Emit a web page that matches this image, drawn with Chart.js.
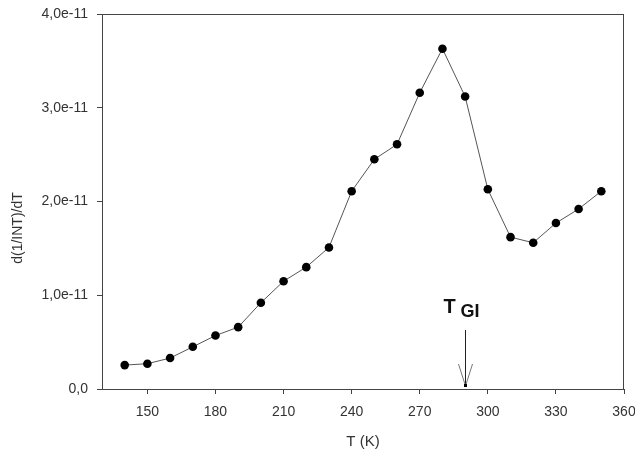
<!DOCTYPE html>
<html>
<head>
<meta charset="utf-8">
<script src="https://cdn.jsdelivr.net/npm/chart.js@4"></script>
<style>
  html, body { margin: 0; padding: 0; background: #fff; }
  #wrap { width: 635px; height: 457px; }
</style>
</head>
<body>
<div id="wrap"><canvas id="chart" width="635" height="457"></canvas></div>
<script>
// data
const temps = [140, 150, 160, 170, 180, 190, 200, 210, 220, 230, 240, 250, 260, 270, 280, 290, 300, 310, 320, 330, 340, 350];
const dInt = [2.55e-12, 2.7e-12, 3.3e-12, 4.5e-12, 5.7e-12, 6.6e-12, 9.2e-12, 1.15e-11, 1.3e-11, 1.51e-11, 2.11e-11,
    2.45e-11, 2.61e-11, 3.16e-11, 3.63e-11, 3.12e-11, 2.13e-11, 1.62e-11, 1.56e-11, 1.77e-11, 1.92e-11, 2.11e-11];
const xTicks = [150, 180, 210, 240, 270, 300, 330, 360];
const yTicks = [0, 1e-11, 2e-11, 3e-11, 4e-11];
const yTickLabels = ['0,0', '1,0e-11', '2,0e-11', '3,0e-11', '4,0e-11'];

// annotation: T_GI arrow
const tgiValue = 290;
const arrowTop = 0.63e-11;

const textColor = '#333';
const axisColor = '#444';
const fontFamily = '"Liberation Sans", Arial, sans-serif';

// frame + T_GI marker + y title
const extrasPlugin = {
    id: 'extras',
    afterDraw(chart) {
        const {ctx, chartArea: a, scales: {x, y}} = chart;
        ctx.save();
        ctx.strokeStyle = axisColor;
        ctx.lineWidth = 1;
        ctx.strokeRect(a.left + 0.5, a.top + 0.5, a.right - a.left - 1, a.bottom - a.top);

        // arrow
        const ax = Math.round(x.getPixelForValue(tgiValue)) + 0.5;
        const y0 = y.getPixelForValue(0) - 3;
        const y1 = y.getPixelForValue(arrowTop);
        ctx.strokeStyle = '#222';
        ctx.beginPath();
        ctx.moveTo(ax, y1);
        ctx.lineTo(ax, y0);
        ctx.stroke();
        ctx.strokeStyle = '#777';
        ctx.beginPath();
        ctx.moveTo(ax - 7, y0 - 22);
        ctx.lineTo(ax, y0);
        ctx.lineTo(ax + 7, y0 - 22);
        ctx.stroke();
        ctx.fillStyle = '#000';
        ctx.fillRect(ax - 1.5, y0 - 2, 3, 3);

        // label
        ctx.fillStyle = '#111';
        ctx.textBaseline = 'alphabetic';
        ctx.textAlign = 'left';
        ctx.font = 'bold 20px ' + fontFamily;
        ctx.fillText('T', ax - 22, y1 - 17);
        ctx.font = 'bold 18px ' + fontFamily;
        ctx.fillText('GI', ax - 5, y1 - 13);

        // y axis title
        ctx.fillStyle = textColor;
        ctx.font = '14px ' + fontFamily;
        ctx.textAlign = 'center';
        ctx.textBaseline = 'middle';
        ctx.translate(18, 228);
        ctx.rotate(-Math.PI / 2);
        ctx.fillText('d(1/INT)/dT', 0, 0);
        ctx.restore();
    }
};

const ctx = document.getElementById('chart').getContext('2d');
new Chart(ctx, {
    type: 'line',
    data: {
        datasets: [{
            data: temps.map((t, i) => ({x: t, y: dInt[i]})),
            borderColor: '#555',
            borderWidth: 1,
            pointBackgroundColor: '#000',
            pointBorderColor: '#000',
            pointRadius: 4.3,
            pointBorderWidth: 0,
            tension: 0
        }]
    },
    options: {
        responsive: false,
        animation: false,
        devicePixelRatio: 1,
        layout: {padding: {left: 0, top: 14, right: 11, bottom: 0}},
        plugins: {legend: {display: false}, tooltip: {enabled: false}},
        scales: {
            x: {
                type: 'linear',
                min: 130,
                max: 360,
                afterBuildTicks: s => { s.ticks = xTicks.map(v => ({value: v})); },
                afterFit: s => { s.height = 68; s.paddingLeft = 0; s.paddingRight = 0; },
                grid: {drawOnChartArea: false, drawTicks: true, tickLength: 5, color: axisColor},
                border: {display: true, color: axisColor},
                ticks: {
                    color: textColor,
                    padding: 10,
                    maxRotation: 0,
                    font: {family: fontFamily, size: 14}
                },
                title: {
                    display: true,
                    text: 'T (K)',
                    color: textColor,
                    padding: {top: 4, bottom: 6},
                    font: {family: fontFamily, size: 15}
                }
            },
            y: {
                type: 'linear',
                min: 0,
                max: 4e-11,
                afterBuildTicks: s => { s.ticks = yTicks.map(v => ({value: v})); },
                afterFit: s => { s.width = 102; s.paddingTop = 0; s.paddingBottom = 0; },
                grid: {drawOnChartArea: false, drawTicks: true, tickLength: 5, color: axisColor},
                border: {display: true, color: axisColor},
                ticks: {
                    color: textColor,
                    padding: 9,
                    callback: (v, i) => yTickLabels[i],
                    font: {family: fontFamily, size: 14}
                }
            }
        }
    },
    plugins: [extrasPlugin]
});
</script>
</body>
</html>
